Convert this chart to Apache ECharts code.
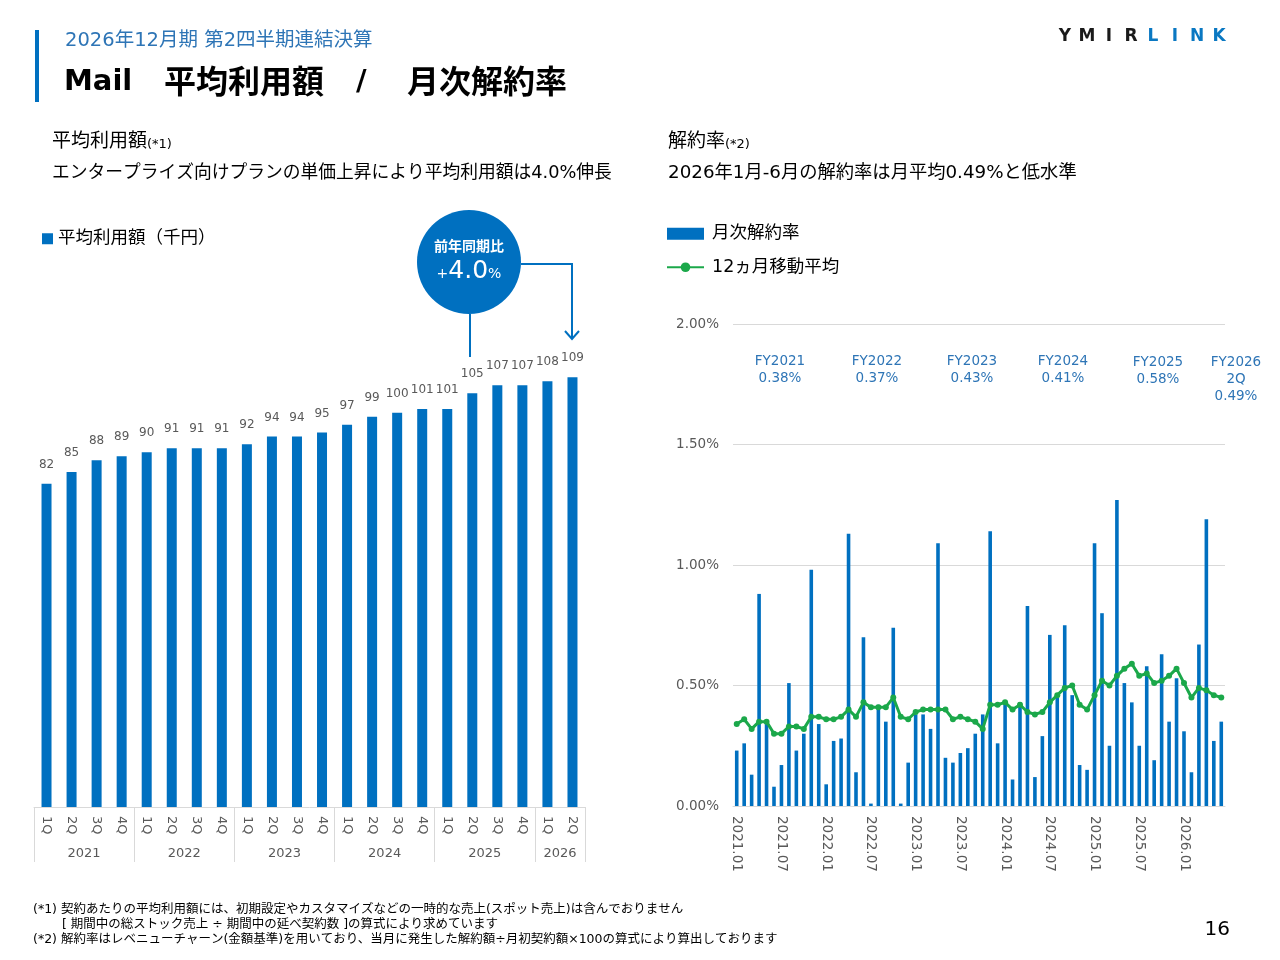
<!DOCTYPE html>
<html>
<head>
<meta charset="utf-8">
<script src="https://cdn.jsdelivr.net/npm/echarts@6/dist/echarts.min.js"></script>
<style>
  html, body { margin: 0; padding: 0; background: #fff; }
  #main { width: 1280px; height: 960px; }
</style>
</head>
<body>
<div id="main"></div>
<script>
// 平均利用額（千円）四半期
var quarters = ['1Q','2Q','3Q','4Q','1Q','2Q','3Q','4Q','1Q','2Q','3Q','4Q',
                '1Q','2Q','3Q','4Q','1Q','2Q','3Q','4Q','1Q','2Q'];
var avgUsage = [82, 85, 88, 89, 90, 91, 91, 91, 92, 94, 94, 95,
                97, 99, 100, 101, 101, 105, 107, 107, 108, 109];
var yearLabels = ['2021', '2022', '2023', '2024', '2025', '2026'];
var yearCenters = [2, 6, 10, 14, 18, 21];
var yearEdges = [0, 4, 8, 12, 16, 20, 22];

// 月次解約率 (%)
var months = [];
for (var y = 2021; y <= 2026; y++) {
    for (var m = 1; m <= 12; m++) {
        if (y === 2026 && m > 6) break;
        months.push(y + '.' + (m < 10 ? '0' + m : m));
    }
}
var monthlyChurn = [0.23, 0.26, 0.13, 0.88, 0.34, 0.08, 0.17, 0.51, 0.23, 0.30, 0.98, 0.34,
                    0.09, 0.27, 0.28, 1.13, 0.14, 0.70, 0.01, 0.42, 0.35, 0.74, 0.01, 0.18,
                    0.38, 0.38, 0.32, 1.09, 0.20, 0.18, 0.22, 0.24, 0.30, 0.38, 1.14, 0.26,
                    0.43, 0.11, 0.43, 0.83, 0.12, 0.29, 0.71, 0.45, 0.75, 0.46, 0.17, 0.15,
                    1.09, 0.80, 0.25, 1.27, 0.51, 0.43, 0.25, 0.58, 0.19, 0.63, 0.35, 0.53,
                    0.31, 0.14, 0.67, 1.19, 0.27, 0.35];
var movingAvg = [0.34, 0.36, 0.32, 0.35, 0.35, 0.30, 0.30, 0.33, 0.33, 0.32, 0.37, 0.37,
                 0.36, 0.36, 0.37, 0.40, 0.37, 0.43, 0.41, 0.41, 0.41, 0.45, 0.37, 0.36,
                 0.39, 0.40, 0.40, 0.40, 0.40, 0.36, 0.37, 0.36, 0.35, 0.32, 0.42, 0.42,
                 0.43, 0.40, 0.42, 0.39, 0.38, 0.39, 0.43, 0.46, 0.49, 0.50, 0.42, 0.40,
                 0.46, 0.52, 0.50, 0.54, 0.57, 0.59, 0.54, 0.55, 0.51, 0.52, 0.54, 0.57,
                 0.51, 0.45, 0.49, 0.48, 0.46, 0.45];

// 年度平均の注記
var fyNotes = [
    { text: 'FY2021\n0.38%', x: 780, y: 353 },
    { text: 'FY2022\n0.37%', x: 877, y: 353 },
    { text: 'FY2023\n0.43%', x: 972, y: 353 },
    { text: 'FY2024\n0.41%', x: 1063, y: 353 },
    { text: 'FY2025\n0.58%', x: 1158, y: 354 },
    { text: 'FY2026\n2Q\n0.49%', x: 1236, y: 354 }
];

var logoLetters = ['Y', 'M', 'I', 'R', 'L', 'I', 'N', 'K'];

var BLUE = '#0070C0';
var GREEN = '#1BA84A';
var GREY_TXT = '#595959';
var FONT = '"DejaVu Sans", "Noto Sans CJK JP", sans-serif';
var CJK = '"Noto Sans CJK JP", sans-serif';

var myChart = echarts.init(document.getElementById('main'));

var graphics = [
    // ヘッダー
    { type: 'rect', shape: { x: 35, y: 30, width: 4, height: 72 }, style: { fill: BLUE } },
    { type: 'text', x: 65, y: 41, style: { text: '2026年12月期 第2四半期連結決算', fill: '#2E75B6', font: '19.5px ' + FONT, verticalAlign: 'middle' } },
    { type: 'text', x: 64, y: 82, style: { text: 'Mail', fill: '#000', font: 'bold 29px ' + FONT, verticalAlign: 'middle' } },
    { type: 'text', x: 164, y: 81, style: { text: '平均利用額', fill: '#000', font: 'bold 32px ' + CJK, verticalAlign: 'middle' } },
    { type: 'text', x: 356, y: 82, style: { text: '/', fill: '#000', font: 'bold 29px ' + FONT, verticalAlign: 'middle' } },
    { type: 'text', x: 407, y: 81, style: { text: '月次解約率', fill: '#000', font: 'bold 32px ' + CJK, verticalAlign: 'middle' } },
    // 小見出し
    { type: 'text', x: 52, y: 142, style: {
        text: '{a|平均利用額}{s|(*1)}', verticalAlign: 'middle',
        rich: { a: { fill: '#000', font: '19px ' + FONT }, s: { fill: '#000', font: '13px ' + FONT, padding: [6, 0, 0, 0] } } } },
    { type: 'text', x: 52, y: 173, style: { text: 'エンタープライズ向けプランの単価上昇により平均利用額は4.0%伸長', fill: '#000', font: '17.75px ' + FONT, verticalAlign: 'middle' } },
    { type: 'text', x: 668, y: 142, style: {
        text: '{a|解約率}{s|(*2)}', verticalAlign: 'middle',
        rich: { a: { fill: '#000', font: '19px ' + FONT }, s: { fill: '#000', font: '13px ' + FONT, padding: [6, 0, 0, 0] } } } },
    { type: 'text', x: 668, y: 173, style: { text: '2026年1月-6月の解約率は月平均0.49%と低水準', fill: '#000', font: '18.3px ' + FONT, verticalAlign: 'middle' } },
    // 前年同期比バブル
    { type: 'circle', shape: { cx: 469, cy: 262, r: 52 }, style: { fill: BLUE } },
    { type: 'text', x: 469, y: 246, style: { text: '前年同期比', fill: '#fff', font: 'bold 14px ' + CJK, align: 'center', verticalAlign: 'middle' } },
    { type: 'text', x: 469, y: 271, style: {
        text: '{s|+}{b|4.0}{s|%}', align: 'center', verticalAlign: 'middle',
        rich: {
            s: { fill: '#fff', font: '14px ' + FONT, padding: [6, 0, 0, 0] },
            b: { fill: '#fff', font: '25px ' + FONT }
        } } },
    { type: 'line', shape: { x1: 470, y1: 314, x2: 470, y2: 357 }, style: { stroke: BLUE, lineWidth: 2 } },
    { type: 'polyline', shape: { points: [[521, 264], [572, 264], [572, 339]] }, style: { stroke: BLUE, lineWidth: 2, fill: null } },
    { type: 'polyline', shape: { points: [[565, 331], [572, 339], [579, 331]] }, style: { stroke: BLUE, lineWidth: 2, fill: null } },
    // 脚注
    { type: 'text', x: 33, y: 910, style: { text: '(*1) 契約あたりの平均利用額には、初期設定やカスタマイズなどの一時的な売上(スポット売上)は含んでおりません', fill: '#000', font: '12.5px ' + FONT, verticalAlign: 'middle' } },
    { type: 'text', x: 62, y: 925, style: { text: '[ 期間中の総ストック売上 ÷ 期間中の延べ契約数 ]の算式により求めています', fill: '#000', font: '12.5px ' + FONT, verticalAlign: 'middle' } },
    { type: 'text', x: 33, y: 940, style: { text: '(*2) 解約率はレベニューチャーン(金額基準)を用いており、当月に発生した解約額÷月初契約額×100の算式により算出しております', fill: '#000', font: '12.5px ' + FONT, verticalAlign: 'middle' } },
    { type: 'text', x: 1230, y: 930, style: { text: '16', fill: '#000', font: '20px ' + FONT, align: 'right', verticalAlign: 'middle' } }
];

logoLetters.forEach(function (ch, i) {
    graphics.push({ type: 'text', x: 1065 + i * 22, y: 37, style: {
        text: ch, fill: i < 4 ? '#1a1a1a' : '#0a78c2', font: 'bold 17px ' + FONT,
        align: 'center', verticalAlign: 'middle' } });
});

fyNotes.forEach(function (n) {
    graphics.push({ type: 'text', x: n.x, y: n.y, style: {
        text: n.text, fill: '#2E75B6', font: '13.5px ' + FONT, align: 'center', lineHeight: 17 } });
});

var option = {
    textStyle: { fontFamily: FONT },
    animation: false,
    legend: [
        {
            data: [{ name: '平均利用額（千円）', icon: 'rect' }],
            left: 37, top: 225, itemWidth: 11, itemHeight: 11, itemGap: 10,
            textStyle: { fontSize: 17.5, color: '#000', fontFamily: FONT }
        },
        {
            data: [{ name: '月次解約率', icon: 'rect' }, { name: '12ヵ月移動平均' }],
            orient: 'vertical', left: 661, top: 220, itemWidth: 37, itemHeight: 12, itemGap: 16,
            textStyle: { fontSize: 17.5, color: '#000', fontFamily: FONT, padding: [0, 0, 0, 3] }
        }
    ],
    grid: [
        { left: 34, width: 551, top: 334, bottom: 153 },
        { left: 733, right: 55, top: 324, bottom: 154 }
    ],
    xAxis: [
        {
            type: 'category', gridIndex: 0, data: quarters,
            axisLine: { lineStyle: { color: '#D9D9D9' } },
            axisTick: { show: false },
            axisLabel: { rotate: -90, color: GREY_TXT, fontSize: 13, margin: 9, interval: 0 }
        },
        {
            type: 'value', gridIndex: 0, position: 'bottom', offset: 0,
            min: 0, max: 22,
            axisLine: { show: false },
            splitLine: { show: false },
            axisTick: { show: true, length: 55, customValues: yearEdges, lineStyle: { color: '#D9D9D9' } },
            axisLabel: {
                customValues: yearCenters, color: GREY_TXT, fontSize: 13, margin: 40,
                formatter: function (v) { return yearLabels[yearCenters.indexOf(v)]; }
            }
        },
        {
            type: 'category', gridIndex: 1, data: months,
            axisLine: { lineStyle: { color: '#D9D9D9' } },
            axisTick: { interval: 5, alignWithLabel: true, lineStyle: { color: '#D9D9D9' } },
            axisLabel: { rotate: -90, interval: 5, color: GREY_TXT, fontSize: 13.5, margin: 10 }
        }
    ],
    yAxis: [
        { type: 'value', gridIndex: 0, min: 0, max: 120, show: false },
        {
            type: 'value', gridIndex: 1, min: 0, max: 2, interval: 0.5,
            axisLine: { show: false }, axisTick: { show: false },
            splitLine: { lineStyle: { color: '#D9D9D9' } },
            axisLabel: { color: GREY_TXT, fontSize: 13.5, margin: 14, formatter: function (v) { return v.toFixed(2) + '%'; } }
        }
    ],
    series: [
        {
            name: '平均利用額（千円）', type: 'bar', xAxisIndex: 0, yAxisIndex: 0,
            data: avgUsage, barWidth: 10, itemStyle: { color: BLUE },
            label: { show: true, position: 'top', distance: 13, color: GREY_TXT, fontSize: 12 }
        },
        {
            name: '月次解約率', type: 'bar', xAxisIndex: 2, yAxisIndex: 1,
            data: monthlyChurn, barWidth: 3.6, itemStyle: { color: BLUE }
        },
        {
            name: '12ヵ月移動平均', type: 'line', xAxisIndex: 2, yAxisIndex: 1,
            data: movingAvg, symbol: 'circle', symbolSize: 6, showAllSymbol: true,
            lineStyle: { color: GREEN, width: 3 }, itemStyle: { color: GREEN }
        }
    ],
    graphic: graphics
};

myChart.setOption(option, true);
</script>
</body>
</html>
